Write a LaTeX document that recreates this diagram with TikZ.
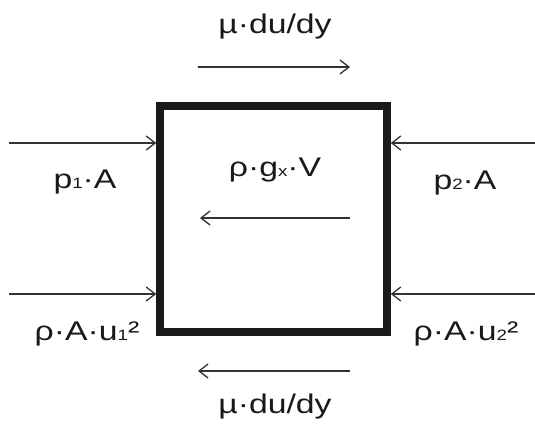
\documentclass[tikz,border=0pt]{standalone}
\usepackage{fontspec}
\setmainfont[FakeStretch=1.25]{Liberation Sans}
\usetikzlibrary{arrows.meta}
\newcommand\lowsub[1]{{\fontsize{15}{15}\selectfont #1}}
\begin{document}
\begin{tikzpicture}[x=1pt,y=-1pt,
  arr/.style={line width=1.3pt, draw=black!80, -{Straight Barb[length=9pt,width=14pt,line width=1.3pt]}},
  lbl/.style={anchor=base, inner sep=0pt, text=black!90, font=\fontsize{27}{27}\selectfont},
  boxstyle/.style={draw=black!90, line width=7.5pt, minimum width=227pt, minimum height=226pt, inner sep=0pt}]
\useasboundingbox (0,0) rectangle (535,423);
\node[boxstyle] (box) at (273.5,219) {};
% coordinates
\coordinate (tA) at (198,67);   \coordinate (tB) at (350,67);
\coordinate (iA) at (350,218);  \coordinate (iB) at (200,218);
\coordinate (bA) at (350,371);  \coordinate (bB) at (198,371);
\coordinate (l1) at (9,143);    \coordinate (l2) at (9,294);
\coordinate (r1) at (535,143);  \coordinate (r2) at (535,294);
% arrows
\draw[arr] (tA) -- (tB);
\draw[arr] (iA) -- (iB);
\draw[arr] (bA) -- (bB);
\draw[arr] (l1) -- (l1 -| box.west);
\draw[arr] (l2) -- (l2 -| box.west);
\draw[arr] (r1) -- (r1 -| box.east);
\draw[arr] (r2) -- (r2 -| box.east);
% labels
\node[lbl] (ttop) at (275,33) {µ·du/dy};
\node[lbl] (tbot) at (275,413) {µ·du/dy};
\node[lbl] (tg) at (275,176) {ρ·g\lowsub{x}·V};
\node[lbl] (tp1) at (85,188) {p\lowsub{1}·A};
\node[lbl] (tp2) at (465,189) {p\lowsub{2}·A};
\node[lbl] (tu1) at (87,340) {ρ·A·u\lowsub{1}²};
\node[lbl] (tu2) at (466,340) {ρ·A·u\lowsub{2}²};
\end{tikzpicture}
\end{document}
